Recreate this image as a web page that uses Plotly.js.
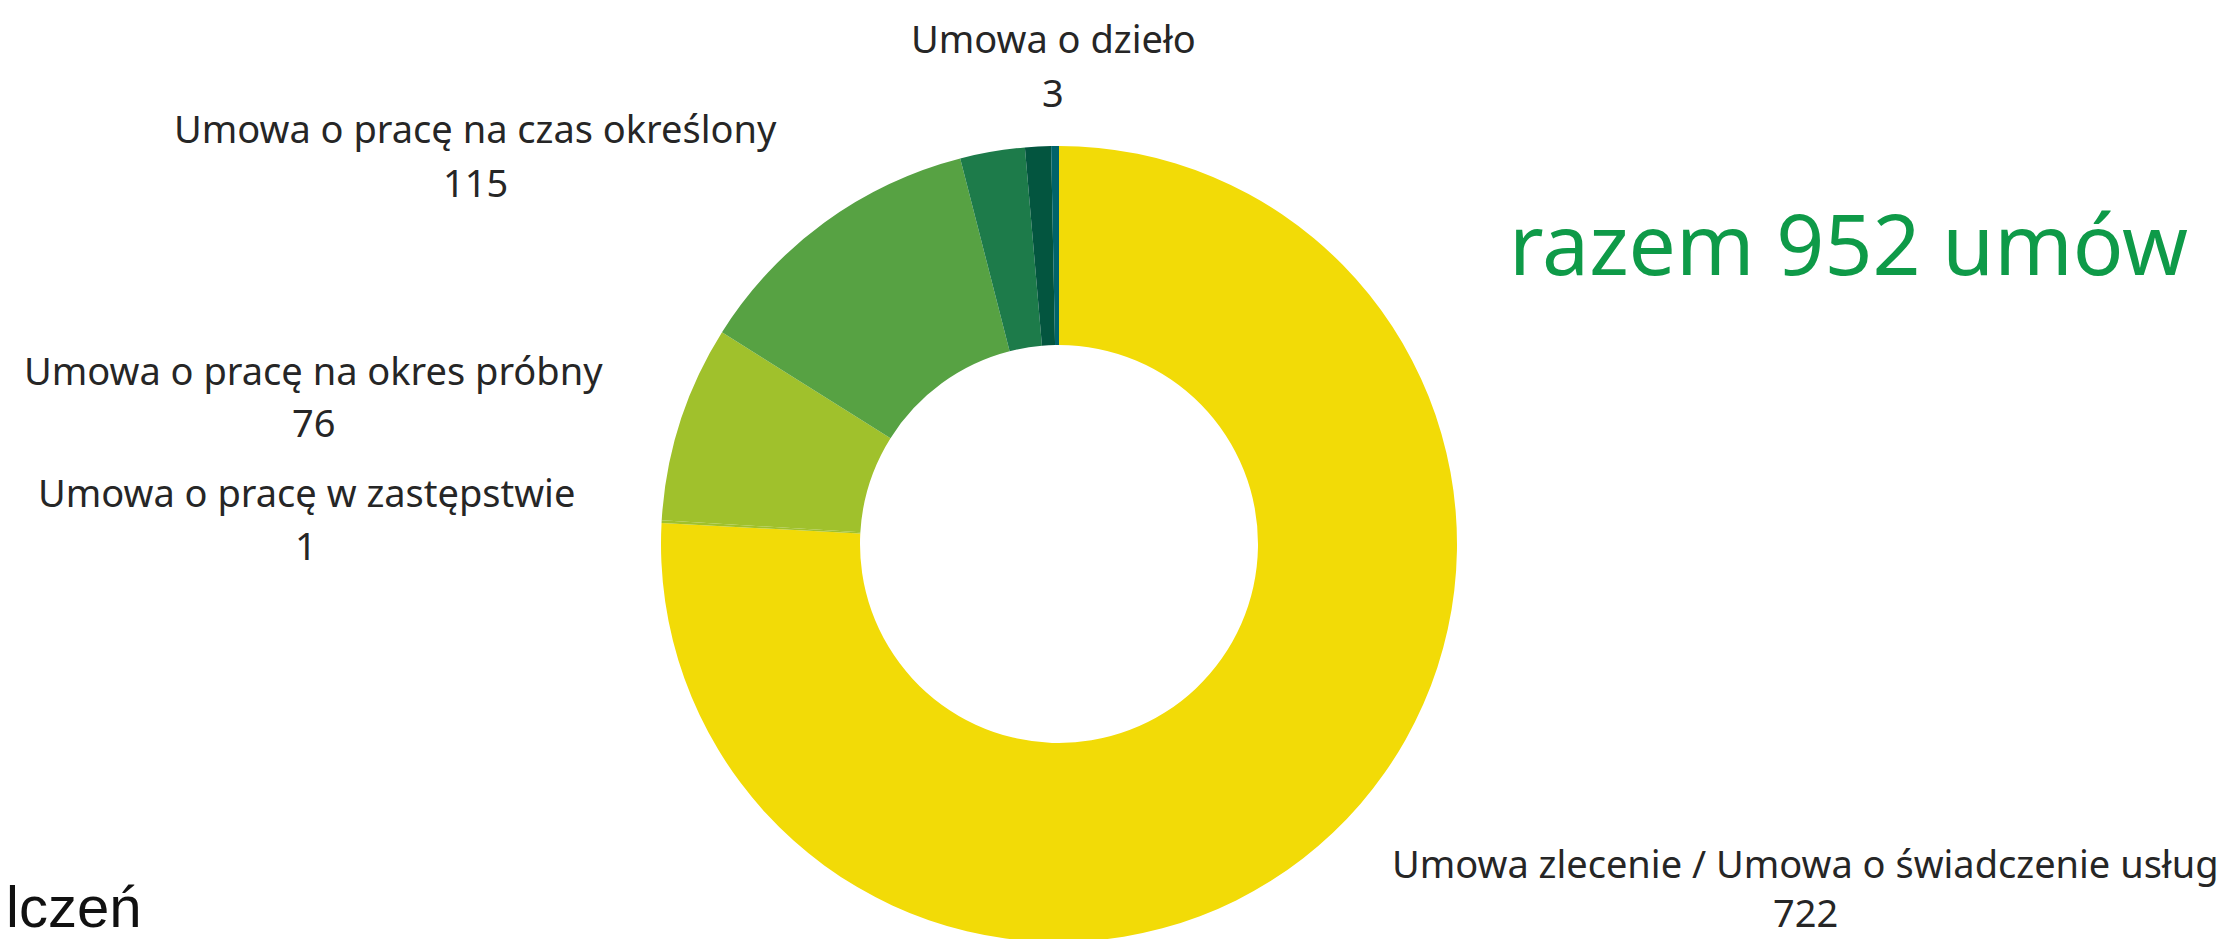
<!DOCTYPE html>
<html>
<head>
<meta charset="utf-8">
<script src="https://cdn.plot.ly/plotly-3.0.1.min.js"></script>
<style>
  html, body { margin: 0; padding: 0; background: #ffffff; overflow: hidden; }
  #chart { width: 2229px; height: 960px; }
</style>
</head>
<body>
<div id="chart"></div>
<script>
// ---- data ----
const categories = [
  "Umowa zlecenie / Umowa o świadczenie usług",
  "Umowa o pracę w zastępstwie",
  "Umowa o pracę na okres próbny",
  "Umowa o pracę na czas określony",
  "Umowa o pracę na czas nieokreślony",
  "Pozostałe",
  "Umowa o dzieło"
];
const values = [722, 1, 76, 115, 25, 10, 3];
const colors = ["#F2DB07", "#A0C12C", "#A0C12C", "#57A243", "#1D7B4A", "#03553F", "#00636A"];
const labelled = [true, true, true, true, false, false, true];

// ---- layout helpers ----
const W = 2229, H = 960;
const px = x => x / W;
const py = y => (H - y) / H;

// label positions (pixel centres of name line and value line)
const labelPos = [
  {x: 1805, y1: 863, y2: 912},
  {x: 306,  y1: 492, y2: 545},
  {x: 313,  y1: 370, y2: 422},
  {x: 475,  y1: 128, y2: 182},
  null,
  null,
  {x: 1053, y1: 38,  y2: 92}
];

const total = values.reduce((a, b) => a + b, 0);

const labelFont = {family: "Noto Sans, sans-serif", size: 38, color: "#262626"};
const annotations = [];
categories.forEach((c, i) => {
  if (!labelled[i] || !labelPos[i]) return;
  const p = labelPos[i];
  annotations.push({
    text: c, x: px(p.x), y: py(p.y1), xref: "paper", yref: "paper",
    xanchor: "center", yanchor: "middle", showarrow: false, font: labelFont
  });
  annotations.push({
    text: String(values[i]), x: px(p.x), y: py(p.y2), xref: "paper", yref: "paper",
    xanchor: "center", yanchor: "middle", showarrow: false, font: labelFont
  });
});

annotations.push({
  text: "razem " + total + " umów", x: px(1848), y: py(242), xref: "paper", yref: "paper",
  xanchor: "center", yanchor: "middle", showarrow: false,
  font: {family: "Noto Sans, sans-serif", size: 84, color: "#0E9A48"}
});

annotations.push({
  text: "lczeń", x: px(4), y: py(906), xref: "paper", yref: "paper",
  xanchor: "left", yanchor: "middle", showarrow: false,
  font: {family: "Liberation Sans, Arial, sans-serif", size: 58, color: "#111111"}
});

const cx = 1059, cy = 544, r = 398;

const trace = {
  type: "pie",
  labels: categories,
  values: values,
  hole: 0.5,
  sort: false,
  direction: "clockwise",
  rotation: 0,
  marker: {colors: colors, line: {width: 0}},
  textinfo: "none",
  hoverinfo: "label+value",
  showlegend: false,
  domain: {x: [px(cx - r), px(cx + r)], y: [py(cy + r), py(cy - r)]}
};

const layout = {
  width: W, height: H,
  margin: {l: 0, r: 0, t: 0, b: 0},
  paper_bgcolor: "#ffffff",
  plot_bgcolor: "#ffffff",
  showlegend: false,
  annotations: annotations
};

Plotly.newPlot("chart", [trace], layout, {displayModeBar: false, staticPlot: true});
</script>
</body>
</html>
